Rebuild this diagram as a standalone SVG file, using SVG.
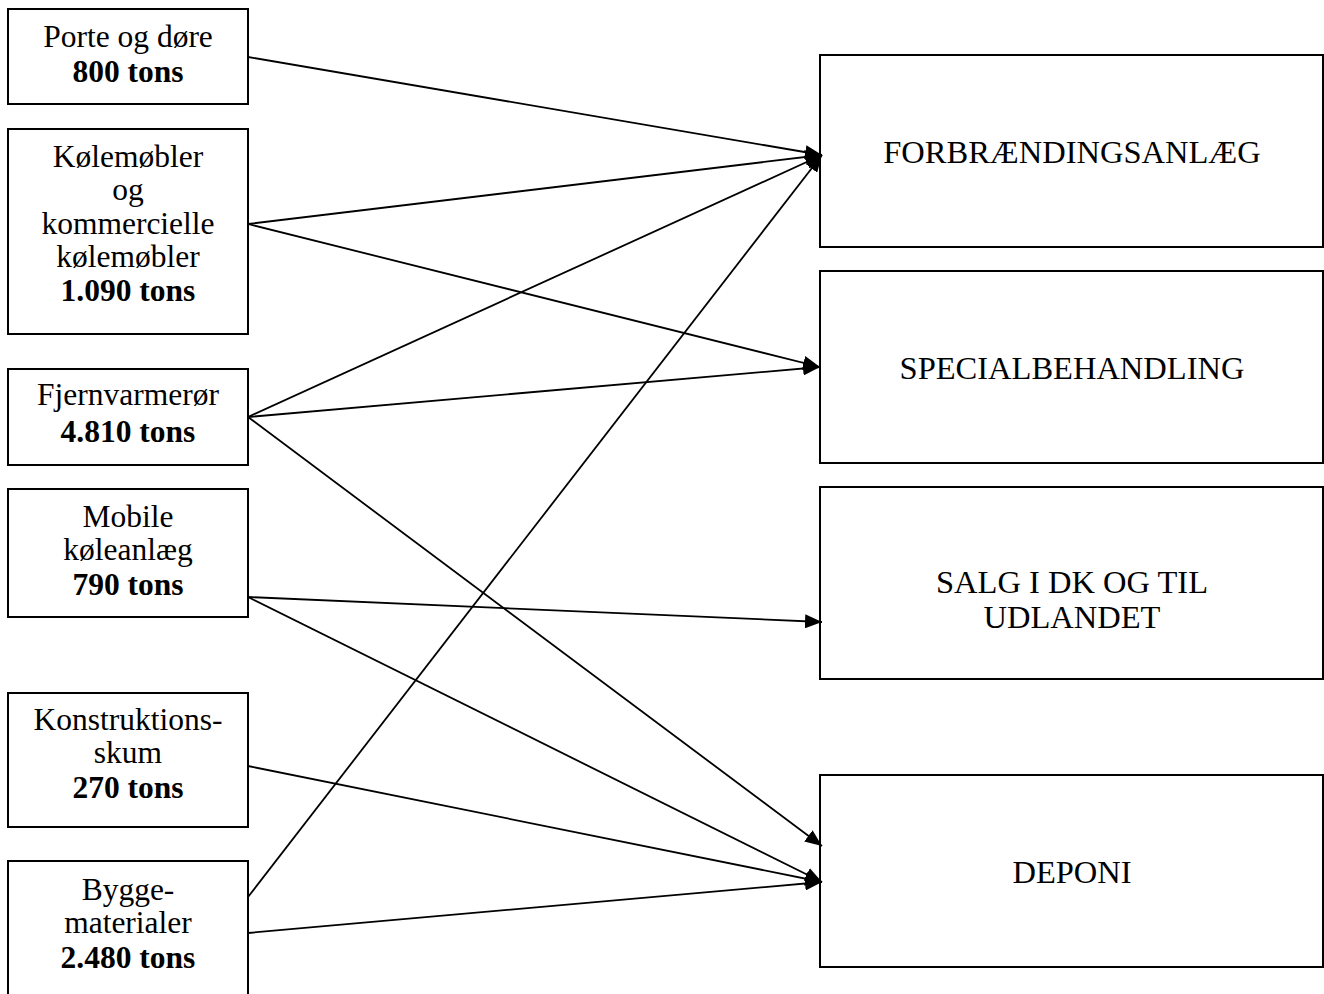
<svg xmlns="http://www.w3.org/2000/svg" width="1324" height="994" viewBox="0 0 1324 994">
<style>
.box{fill:#fff;stroke:#000;stroke-width:2}
.t{font-family:"Liberation Serif","Times New Roman",serif;font-size:31.5px;fill:#000;text-anchor:middle}
.r{font-size:32.5px}
.b{font-weight:bold}
.c{stroke:#000;stroke-width:1.8;fill:none;marker-end:url(#ah)}
</style>
<defs>
<marker id="ah" markerUnits="userSpaceOnUse" markerWidth="18" markerHeight="14" refX="17" refY="7" orient="auto">
<path d="M0,0 L17,7 L0,14 Z" fill="#000"/>
</marker>
</defs>
<rect width="1324" height="994" fill="#fff"/>
<g id="n-porte"><rect class="box" x="8" y="9" width="240" height="95"/>
<text class="t" x="128" y="47">Porte og døre</text><text class="t b" x="128" y="82">800 tons</text></g>
<g id="n-kole"><rect class="box" x="8" y="129" width="240" height="205"/>
<text class="t" x="128" y="167">Kølemøbler</text><text class="t" x="128" y="200">og</text><text class="t" x="128" y="234">kommercielle</text><text class="t" x="128" y="267">kølemøbler</text><text class="t b" x="128" y="301">1.090 tons</text></g>
<g id="n-fjern"><rect class="box" x="8" y="369" width="240" height="96"/>
<text class="t" x="128" y="405">Fjernvarmerør</text><text class="t b" x="128" y="442">4.810 tons</text></g>
<g id="n-mobile"><rect class="box" x="8" y="489" width="240" height="128"/>
<text class="t" x="128" y="527">Mobile</text><text class="t" x="128" y="560">køleanlæg</text><text class="t b" x="128" y="595">790 tons</text></g>
<g id="n-konst"><rect class="box" x="8" y="693" width="240" height="134"/>
<text class="t" x="128" y="730">Konstruktions-</text><text class="t" x="128" y="763">skum</text><text class="t b" x="128" y="798">270 tons</text></g>
<g id="n-bygge"><rect class="box" x="8" y="861" width="240" height="150"/>
<text class="t" x="128" y="900">Bygge-</text><text class="t" x="128" y="933">materialer</text><text class="t b" x="128" y="968">2.480 tons</text></g>
<g id="n-forbr"><rect class="box" x="820" y="55" width="503" height="192"/>
<text class="t r" x="1072" y="163">FORBRÆNDINGSANLÆG</text></g>
<g id="n-special"><rect class="box" x="820" y="271" width="503" height="192"/>
<text class="t r" x="1072" y="379">SPECIALBEHANDLING</text></g>
<g id="n-salg"><rect class="box" x="820" y="487" width="503" height="192"/>
<text class="t r" x="1072" y="593">SALG I DK OG TIL</text><text class="t r" x="1072" y="628">UDLANDET</text></g>
<g id="n-deponi"><rect class="box" x="820" y="775" width="503" height="192"/>
<text class="t r" x="1072" y="883">DEPONI</text></g>
<g id="connectors">
<line class="c" x1="248" y1="57" x2="822" y2="155"/>
<line class="c" x1="248" y1="224" x2="822" y2="155"/>
<line class="c" x1="248" y1="224" x2="820" y2="367"/>
<line class="c" x1="248" y1="417" x2="822" y2="155"/>
<line class="c" x1="248" y1="417" x2="820" y2="367"/>
<line class="c" x1="248" y1="417" x2="822" y2="846"/>
<line class="c" x1="248" y1="597" x2="822" y2="622"/>
<line class="c" x1="248" y1="597" x2="822" y2="882"/>
<line class="c" x1="248" y1="766" x2="822" y2="882"/>
<line class="c" x1="248" y1="897" x2="822" y2="155"/>
<line class="c" x1="248" y1="933" x2="822" y2="882"/>
</g>
</svg>
